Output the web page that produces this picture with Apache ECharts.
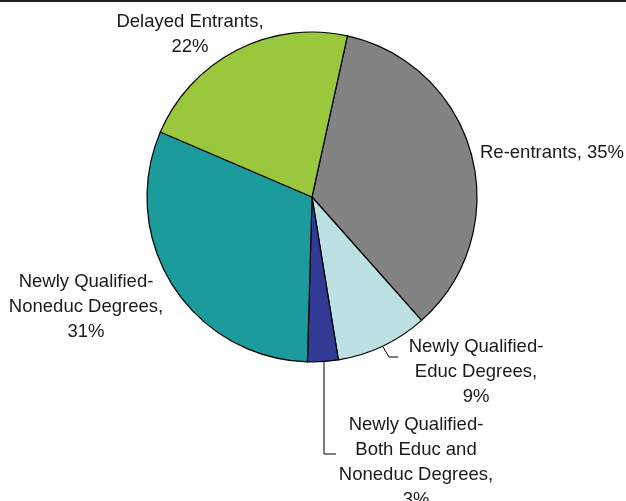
<!DOCTYPE html>
<html><head><meta charset="utf-8">
<script src="https://cdn.jsdelivr.net/npm/echarts@6/dist/echarts.min.js"></script>
<style>html,body{margin:0;padding:0;background:#fff}#c{width:626px;height:501px}</style>
</head><body><div id="c"></div>
<script>
const categories = ["Re-entrants", "Newly Qualified-\nEduc Degrees", "Newly Qualified-\nBoth Educ and\nNoneduc Degrees", "Newly Qualified-\nNoneduc Degrees", "Delayed Entrants"];
const values = [35, 9, 3, 31, 22];
const colors = ["#838383", "#bde0e3", "#313b96", "#1b9b9b", "#9ac83d"];
const labelSep = [", ", ",\n", ",\n", ",\n", ",\n"];

// label placement (style only)
const labelPos = [
  {x: 480, y: 153, align: 'left'},
  {x: 476, y: 372, align: 'center', line: [[383,347],[389,357],[398,357]]},
  {x: 416, y: 462, align: 'center', line: [[324,361],[324,454],[336,454]]},
  {x: 86, y: 307, align: 'center'},
  {x: 190, y: 34, align: 'center'}
];

const chart = echarts.init(document.getElementById('c'), null, {renderer: 'canvas'});
chart.setOption({
  animation: false,
  graphic: [{type: 'line', shape: {x1: 0, y1: 1, x2: 626, y2: 1}, style: {stroke: '#222', lineWidth: 2}}],
  series: [{
    type: 'pie',
    center: [312, 197],
    radius: [0, 165],
    startAngle: 77.6,
    clockwise: true,
    avoidLabelOverlap: false,
    itemStyle: {borderColor: '#000', borderWidth: 1.2},
    label: {
      show: true,
      fontFamily: 'Liberation Sans, Arial, sans-serif',
      fontSize: 18.5,
      lineHeight: 25,
      color: '#1a1a1a',
      formatter: p => p.name + labelSep[p.dataIndex] + p.value + '%'
    },
    labelLine: {show: false, lineStyle: {color: '#000', width: 1}},
    labelLayout: function (params) {
      const lp = labelPos[params.dataIndex];
      const r = {x: lp.x, y: lp.y, align: lp.align, verticalAlign: 'middle'};
      if (lp.line) r.labelLinePoints = lp.line;
      return r;
    },
    data: categories.map((c, i) => ({
      name: c, value: values[i],
      itemStyle: {color: colors[i]},
      label: {align: labelPos[i].align},
      labelLine: {show: !!labelPos[i].line}
    }))
  }]
});
</script></body></html>
